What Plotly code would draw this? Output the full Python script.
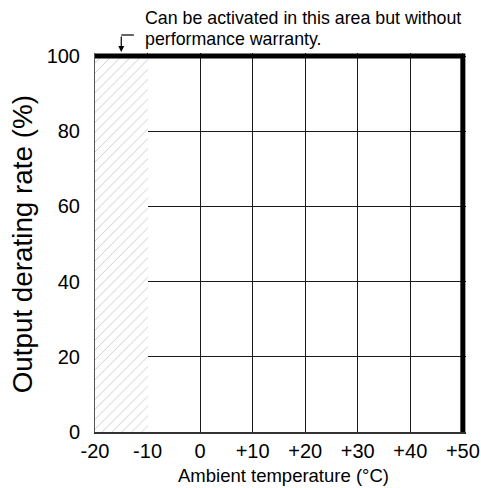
import plotly.graph_objects as go

x_ticks = [-20, -10, 0, 10, 20, 30, 40, 50]
x_tick_labels = ["-20", "-10", "0", "+10", "+20", "+30", "+40", "+50"]
y_ticks = [0, 20, 40, 60, 80, 100]
y_tick_labels = ["0", "20", "40", "60", "80", "100"]

derating_temp = [-20, 50, 50]
derating_rate = [100, 100, 0]

hatch_center = [-15]
hatch_width = [10]
hatch_height = [100]

FONT = "Liberation Sans, Arial, sans-serif"

fig = go.Figure()

fig.add_trace(go.Bar(
    x=hatch_center, y=hatch_height, width=hatch_width,
    marker=dict(color="white", line=dict(width=0),
                pattern=dict(shape="/", fgcolor="#c4c4c4", bgcolor="white",
                             size=7, solidity=0.12, fillmode="replace")),
    showlegend=False, hoverinfo="skip"))

fig.add_trace(go.Scatter(
    x=derating_temp, y=derating_rate, mode="lines",
    line=dict(color="black", width=5), cliponaxis=False,
    showlegend=False, hoverinfo="skip"))

fig.update_layout(
    width=481, height=488,
    margin=dict(l=95, r=15.35, t=53, b=56, autoexpand=False),
    paper_bgcolor="white", plot_bgcolor="white",
    font=dict(family=FONT, color="black"),
    bargap=0,
    xaxis=dict(range=[-20, 50.6], tickvals=x_ticks, ticktext=x_tick_labels,
               showgrid=True, gridcolor="#1a1a1a", gridwidth=1,
               zeroline=False, showline=True, linecolor="#333333", linewidth=2,
               ticks="", tickfont=dict(size=20, family=FONT), automargin=False),
    yaxis=dict(range=[0, 100.8], tickvals=y_ticks, ticktext=y_tick_labels,
               showgrid=True, gridcolor="#1a1a1a", gridwidth=1,
               zeroline=False, showline=True, linecolor="#555555", linewidth=1,
               ticks="", tickfont=dict(size=20, family=FONT), automargin=False,
               ticklabelstandoff=10),
)

fig.add_annotation(
    text="Ambient temperature (°C)", xref="x", yref="paper", x=15.8, y=-0.1135,
    xanchor="center", yanchor="middle", showarrow=False,
    font=dict(size=18.5, family=FONT, color="black"))

fig.add_annotation(
    text="Output derating rate (%)", xref="paper", yref="paper", x=-0.197, y=0.495,
    xanchor="center", yanchor="middle", textangle=-90, showarrow=False,
    font=dict(size=27.8, family=FONT, color="black"))

fig.add_annotation(
    text="Can be activated in this area but without",
    xref="x", yref="paper", x=-10.86, y=1.0923, xanchor="left", yanchor="middle",
    showarrow=False, font=dict(size=17.8, family=FONT, color="black"))

fig.add_annotation(
    text="performance warranty.",
    xref="x", yref="paper", x=-10.86, y=1.037, xanchor="left", yanchor="middle",
    showarrow=False, font=dict(size=17.8, family=FONT, color="black"))

fig.add_annotation(
    text="", xref="x", yref="y", x=-15, y=100, axref="pixel", ayref="pixel",
    ax=0, ay=-21, showarrow=True, arrowhead=2, arrowsize=1, arrowwidth=1.2,
    arrowcolor="black", standoff=4)

fig.add_shape(type="line", xref="x", yref="paper", x0=-15, x1=-12.6,
              y0=1.0475, y1=1.0475, line=dict(color="black", width=1.2))

fig.write_html("out.html", config={"displayModeBar": False},
               post_script="document.body.style.margin='0';document.body.style.padding='0';")
